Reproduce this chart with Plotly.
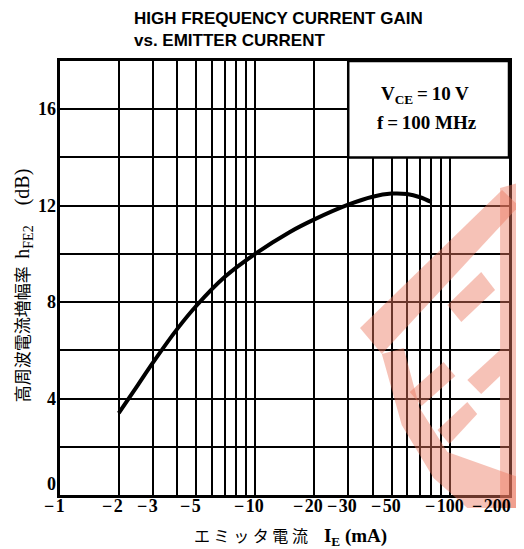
import math
import plotly.graph_objects as go

# ---- data ----
emitter_current = [2, 2.5, 3, 4, 5, 7, 10, 15, 20, 30, 40, 50, 60, 70, 80]   # |I_E| mA
hfe_db = [3.4, 4.55, 5.5, 6.9, 7.85, 9.05, 10.0, 10.9, 11.42, 12.04, 12.37, 12.5, 12.48, 12.35, 12.15]

x_tick_vals = [1, 2, 3, 5, 10, 20, 30, 50, 100, 200]
x_tick_text = ["\u2212\u200a1", "\u2212\u200a2", "\u2212\u200a3", "\u2212\u200a5", "\u2212\u200a10",
               "\u2212\u200a20", "\u2212\u200a30", "\u2212\u200a50", "\u2212\u200a100", "\u2212\u200a200"]
x_grid_vals = [2, 3, 4, 5, 6, 7, 8, 9, 10, 20, 30, 40, 50, 60, 70, 80, 90, 100]
y_tick_vals = [0, 4, 8, 12, 16]
y_tick_text = ["0", "4", "8", "12", "16"]
y_grid_vals = [2, 4, 6, 8, 10, 12, 14, 16]

# page body has an 8px margin, so the figure is drawn 8px smaller/offset
OFF = 8
W, H = 524 - OFF, 549 - OFF
L, R, T, B = 60 - OFF, 12, 61 - OFF, 54
PW, PH = W - L - R, H - T - B

def px(x):
    return (x - OFF - L) / PW

def py(y):
    return (H - B - (y - OFF)) / PH

fig = go.Figure()
fig.add_trace(go.Scatter(
    x=emitter_current, y=hfe_db, mode="lines",
    line=dict(color="black", width=4, shape="spline", smoothing=1.0),
    showlegend=False, hoverinfo="skip"))

serif_bold = dict(family="Liberation Serif", size=18, color="black", weight="bold")
NB = "\u00a0"

fig.update_xaxes(
    type="log", range=[0, math.log10(200)],
    showticklabels=False,
    showgrid=False, ticks="", ticklen=0,
    minor=dict(tickvals=x_grid_vals, showgrid=True, gridcolor="black", gridwidth=2, ticks=""),
    showline=True, linecolor="black", linewidth=3, mirror=True, zeroline=False,
)
fig.update_yaxes(
    range=[0, 18],
    showticklabels=False,
    showgrid=False, ticks="", ticklen=0,
    minor=dict(tickvals=y_grid_vals, showgrid=True, gridcolor="black", gridwidth=2, ticks=""),
    showline=True, linecolor="black", linewidth=3, mirror=True, zeroline=False,
    title=dict(text="高周波電流増幅率" + NB * 2
                    + "<span style='font-family:Liberation Serif;font-size:20px'>h<sub>FE2</sub>"
                    + NB * 4 + "(dB)" + NB * 3 + "</span>",
               font=dict(family="Noto Sans CJK JP", size=17, color="black"), standoff=24),
)

# condition box (covers grid in the upper right)
fig.add_shape(type="rect", xref="x", yref="y", x0=30, x1=200, y0=14, y1=18,
              fillcolor="white", line=dict(color="black", width=2.5), layer="above")

# watermark stamp pieces (pixel outlines)
wm_pieces = [
    [(362, 328), (505, 190), (522, 206), (384, 354)],
    [(503, 188), (524, 182), (524, 508), (503, 508)],
    [(384, 354), (406, 348), (422, 408), (450, 452), (524, 478), (524, 508), (470, 508), (436, 478), (404, 425)],
    [(450, 305), (484, 272), (498, 290), (464, 322)],
    [(470, 380), (503, 350), (503, 376), (484, 394)],
    [(412, 392), (446, 362), (458, 376), (424, 406)],
    [(440, 430), (470, 402), (480, 414), (452, 444)],
]

def path_of(pts):
    return "M " + " L ".join(f"{px(a):.4f},{py(b):.4f}" for a, b in pts) + " Z"

for pts in wm_pieces:
    fig.add_shape(type="path", xref="paper", yref="paper", path=path_of(pts),
                  fillcolor="rgba(235,120,95,0.45)", line=dict(width=0), layer="above")

ann = []
# x tick labels (numerals centred on the grid value, minus sign hanging left)
for v, t in zip(x_tick_vals, x_tick_text):
    last = v == x_tick_vals[-1]
    ann.append(dict(text=t, xref="x", yref="paper", x=math.log10(v), y=py(506),
                    xanchor="right" if last else "center", yanchor="middle",
                    xshift=4 if last else -6, showarrow=False, font=serif_bold))
# y tick labels
for v, t in zip(y_tick_vals, y_tick_text):
    ann.append(dict(text=t, xref="paper", yref="y", x=px(58), y=v,
                    xanchor="right", yanchor="middle", yshift=11 if v == 0 else 0,
                    showarrow=False, font=serif_bold))
ann.append(dict(text="<b>HIGH FREQUENCY CURRENT GAIN<br>vs. EMITTER CURRENT</b>",
                xref="paper", yref="paper", x=px(132), y=py(29), xanchor="left", yanchor="middle",
                align="left", showarrow=False,
                font=dict(family="Liberation Sans", size=17, color="black")))
ann.append(dict(text="V<sub>CE</sub>\u2009=\u200910 V", xref="paper", yref="paper", x=px(381), y=py(95),
                xanchor="left", yanchor="middle", showarrow=False,
                font=dict(family="Liberation Serif", size=19, color="black", weight="bold")))
ann.append(dict(text="f\u2009=\u2009100 MHz", xref="paper", yref="paper", x=px(377), y=py(122),
                xanchor="left", yanchor="middle", showarrow=False,
                font=dict(family="Liberation Serif", size=19, color="black", weight="bold")))
ann.append(dict(text="エ ミ ッ タ 電 流　<span style='font-family:Liberation Serif;font-size:19px'><b>I<sub>E</sub> (mA)</b></span>",
                xref="paper", yref="paper", x=px(292), y=py(536),
                xanchor="center", yanchor="middle", showarrow=False,
                font=dict(family="Noto Sans CJK JP", size=16, color="black")))

fig.update_layout(
    width=W, height=H, margin=dict(l=L, r=R, t=T, b=B),
    paper_bgcolor="white", plot_bgcolor="white",
    annotations=ann, showlegend=False,
)
fig.write_html("out.html")
